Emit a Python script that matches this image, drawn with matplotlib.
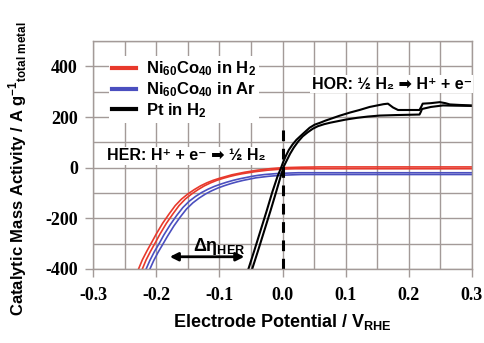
import matplotlib
matplotlib.use('Agg')
import matplotlib.pyplot as plt

plt.rcParams['font.family'] = ['Liberation Sans', 'DejaVu Sans']
plt.rcParams['font.weight'] = 'bold'
plt.rcParams['mathtext.fontset'] = 'custom'
plt.rcParams['mathtext.rm'] = 'Liberation Sans:bold'
plt.rcParams['mathtext.it'] = 'Liberation Sans:bold'
plt.rcParams['mathtext.bf'] = 'Liberation Sans:bold'

# potentials (V vs RHE) and mass activities (A/g)
ni_h2_a_x = [-0.228, -0.222, -0.215, -0.207, -0.200, -0.190, -0.180, -0.170, -0.160, -0.150, -0.140, -0.130, -0.120, -0.110, -0.100, -0.090, -0.080, -0.070, -0.060, -0.050, -0.040, -0.030, -0.020, -0.010, 0.000, 0.015, 0.030, 0.060, 0.100, 0.200, 0.300]
ni_h2_a_y = [-400, -364, -330, -294, -262, -220, -184, -150, -124, -104, -87, -72, -60, -50, -42, -35, -28, -23, -18, -14, -10, -7, -4, -2, 0, 1, 2, 3, 3, 3, 3]
ni_h2_b_x = [-0.222, -0.216, -0.209, -0.201, -0.194, -0.184, -0.174, -0.164, -0.154, -0.144, -0.134, -0.124, -0.114, -0.104, -0.094, -0.084, -0.074, -0.064, -0.054, -0.044, -0.034, -0.024, -0.014, -0.004, 0.006, 0.020, 0.035, 0.060, 0.100, 0.200, 0.300]
ni_h2_b_y = [-400, -364, -330, -294, -262, -220, -184, -150, -124, -104, -87, -72, -60, -50, -42, -35, -29, -24, -20, -16, -13, -10, -8, -6, -5, -4, -4, -4, -4, -4, -4]

ni_ar_a_x = [-0.216, -0.210, -0.203, -0.195, -0.188, -0.178, -0.168, -0.158, -0.148, -0.138, -0.128, -0.118, -0.108, -0.098, -0.088, -0.078, -0.068, -0.058, -0.048, -0.038, -0.028, -0.018, -0.008, 0.002, 0.012, 0.025, 0.040, 0.060, 0.100, 0.200, 0.300]
ni_ar_a_y = [-400, -366, -332, -298, -266, -226, -190, -158, -133, -114, -98, -85, -74, -65, -57, -50, -44, -39, -34, -30, -27, -25, -23, -22, -21, -20, -20, -20, -20, -20, -20]
ni_ar_b_x = [-0.210, -0.204, -0.197, -0.189, -0.182, -0.172, -0.162, -0.152, -0.142, -0.132, -0.122, -0.112, -0.102, -0.092, -0.082, -0.072, -0.062, -0.052, -0.042, -0.032, -0.022, -0.012, -0.002, 0.008, 0.018, 0.030, 0.045, 0.060, 0.100, 0.200, 0.300]
ni_ar_b_y = [-400, -367, -334, -300, -270, -230, -195, -163, -139, -120, -104, -91, -80, -71, -63, -56, -50, -45, -40, -37, -34, -32, -30, -29, -28, -27, -27, -27, -27, -27, -27]

pt_a_x = [-0.054, -0.045, -0.035, -0.025, -0.016, -0.008, -0.003, 0.001, 0.005, 0.010, 0.016, 0.022, 0.028, 0.035, 0.043, 0.051, 0.060, 0.068, 0.075, 0.090, 0.107, 0.122, 0.138, 0.150, 0.160, 0.167, 0.175, 0.183, 0.200, 0.217, 0.220, 0.222, 0.235, 0.249, 0.258, 0.265, 0.280, 0.300]
pt_a_y = [-400, -330, -250, -170, -95, -35, -5, 22, 45, 70, 92, 110, 124, 140, 158, 170, 178, 186, 192, 205, 218, 228, 240, 246, 251, 253, 238, 228, 228, 228, 242, 253, 255, 259, 255, 250, 248, 246]
pt_b_x = [-0.048, -0.039, -0.029, -0.019, -0.010, -0.003, 0.002, 0.007, 0.012, 0.018, 0.025, 0.032, 0.040, 0.048, 0.056, 0.066, 0.076, 0.086, 0.100, 0.118, 0.135, 0.154, 0.180, 0.217, 0.219, 0.221, 0.235, 0.254, 0.275, 0.300]
pt_b_y = [-400, -330, -250, -170, -95, -35, 5, 30, 55, 80, 104, 124, 140, 154, 164, 172, 178, 183, 190, 197, 202, 206, 208, 210, 220, 232, 240, 246, 245, 244]

grid_c = '#a39a98'

fig = plt.figure(figsize=(4.85, 3.43), dpi=100)
ax = fig.add_axes([0.192, 0.216, 0.781, 0.664])

ax.plot(ni_h2_a_x, ni_h2_a_y, color='#e8392c', lw=1.2, label='Ni$_{60}$Co$_{40}$ in H$_2$')
ax.plot(ni_h2_b_x, ni_h2_b_y, color='#e8392c', lw=1.2)
ax.plot(ni_ar_a_x, ni_ar_a_y, color='#4b4fbf', lw=1.2, label='Ni$_{60}$Co$_{40}$ in Ar')
ax.plot(ni_ar_b_x, ni_ar_b_y, color='#4b4fbf', lw=1.2)
ax.plot(pt_a_x, pt_a_y, color='black', lw=1.5, label='Pt in H$_2$')
ax.plot(pt_b_x, pt_b_y, color='black', lw=1.5)

ax.plot([0, 0], [-400, 170], color='black', lw=2.2, ls=(0, (3.5, 2.5)))

ax.set_xlim(-0.3, 0.3)
ax.set_ylim(-400, 500)
ax.set_xticks([-0.3, -0.2, -0.1, 0.0, 0.1, 0.2, 0.3])
ax.set_xticks([-0.25, -0.15, -0.05, 0.05, 0.15, 0.25], minor=True)
ax.set_yticks([-400, -200, 0, 200, 400])
ax.set_yticks([-300, -100, 100, 300, 500], minor=True)
ax.set_xticklabels(['-0.3', '-0.2', '-0.1', '0.0', '0.1', '0.2', '0.3'],
                   family='Liberation Serif', weight='bold', size=13)
ax.set_yticklabels(['-400', '-200', '0', '200', '400'],
                   family='Liberation Serif', weight='bold', size=13)
ax.tick_params(which='major', direction='out', length=6, width=1, color=grid_c, pad=5)
ax.tick_params(axis='x', which='major', pad=7)
ax.tick_params(which='minor', length=0)
ax.grid(which='both', color=grid_c, lw=1)
ax.set_axisbelow(True)
for s in ax.spines.values():
    s.set_color(grid_c)
    s.set_linewidth(1)

ax.set_xlabel('Electrode Potential / V$_{RHE}$', fontsize=13, weight='bold', labelpad=6)
ax.set_ylabel('Catalytic Mass Activity / A g$^{-1}$$_{total\\ metal}$', fontsize=12,
              weight='bold')
ax.yaxis.set_label_coords(-0.17, 0.44)

box = dict(facecolor='white', edgecolor='none', pad=1)
ax.text(-0.278, 47, 'HER: H\u207a + e\u207b \u27a1 \u00bd H\u2082', fontsize=11.5, va='center', ha='left',
        weight='bold', bbox=box)
ax.text(0.3, 330, 'HOR: \u00bd H\u2082 \u27a1 H\u207a + e\u207b', fontsize=11.5, va='center', ha='right',
        weight='bold', bbox=box)
ax.annotate('', xy=(-0.183, -352), xytext=(-0.056, -352),
            arrowprops=dict(arrowstyle='<|-|>', color='black', lw=2, mutation_scale=12))
ax.text(-0.1, -310, r'$\Delta\eta_{HER}$', fontsize=13, ha='center', va='center')

leg = ax.legend(loc='upper left', bbox_to_anchor=(0.02, 0.97), frameon=True, fontsize=12,
                handlelength=1.4, handletextpad=0.6, labelspacing=0.12, borderpad=0.2)
leg.get_frame().set_edgecolor('none')
leg.get_frame().set_facecolor('white')
leg.get_frame().set_alpha(1)
for h in leg.get_lines():
    h.set_linewidth(3)

fig.savefig('out.png', dpi=100)
